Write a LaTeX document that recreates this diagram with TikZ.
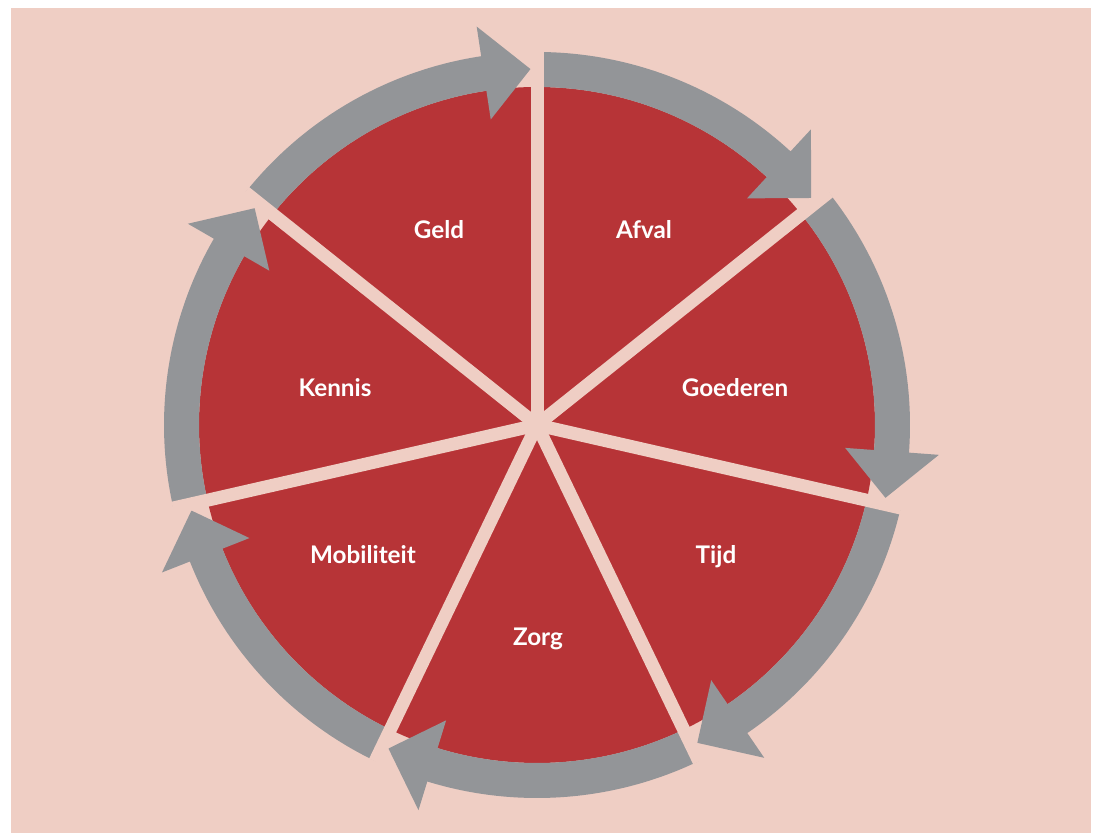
\documentclass[tikz,border=0pt]{standalone}
\usepackage{fontspec}
\setmainfont{Lato}
\usepackage{tikz}
\usetikzlibrary{positioning}
\definecolor{bgpink}{HTML}{EFCEC4}
\definecolor{sectorred}{HTML}{B73437}
\definecolor{ringgray}{HTML}{939598}
\tikzset{
	sectorlabel/.style={
			anchor=base,
			text=white,
			font=\fontsize{13.8}{16}\selectfont\bfseries,
			inner sep=0pt
		},
	ringarrow/.style={
			fill=ringgray
		},
	divider/.style={
			draw=bgpink,
			line width=0.26cm,
			line cap=butt
		}
}
\begin{document}
\begin{tikzpicture}
  \useasboundingbox (-10.74,-8.16) rectangle (11.18,8.50);
  \fill[bgpink] (-10.52,-8.16) rectangle (11.08,8.34);

  % red disc
  \fill[sectorred] (0,0) circle[radius=6.76];

  % arrows round the disc, clockwise
  \foreach \i in {0,...,6} {
    \pgfmathsetmacro\angstart{90-\i*360/7}
    \pgfmathsetmacro\angtip{\angstart-360/7+1.05}
    \pgfmathsetmacro\angback{\angtip+7.56}
    \fill[ringarrow] (\angstart:7.46) arc[start angle=\angstart, end angle=\angback, radius=7.46]
      -- (\angback:8.06) -- (\angtip:7.12) -- (\angback:6.18)
      -- (\angback:6.76) arc[start angle=\angback, end angle=\angstart, radius=6.76] -- cycle;
  }

  % dividers
  \coordinate (hub) at (0,0);
  \foreach \i in {0,...,6} {
    \draw[divider] (hub) -- (90-\i*360/7:7.47);
  }

  \node[sectorlabel] (geld) at (-1.96,3.72) {Geld};
  \node[sectorlabel] (afval) at (2.14,3.72) {Afval};
  \node[sectorlabel] (kennis) at (-4.04,0.56) {Kennis};
  \node[sectorlabel] (goederen) at (3.96,0.56) {Goederen};
  \node[sectorlabel] (mobiliteit) at (-3.48,-2.76) {Mobiliteit};
  \node[sectorlabel] (tijd) at (3.58,-2.76) {Tijd};
  \node[sectorlabel] (zorg) at (0.02,-4.40) {Zorg};
\end{tikzpicture}
\end{document}
